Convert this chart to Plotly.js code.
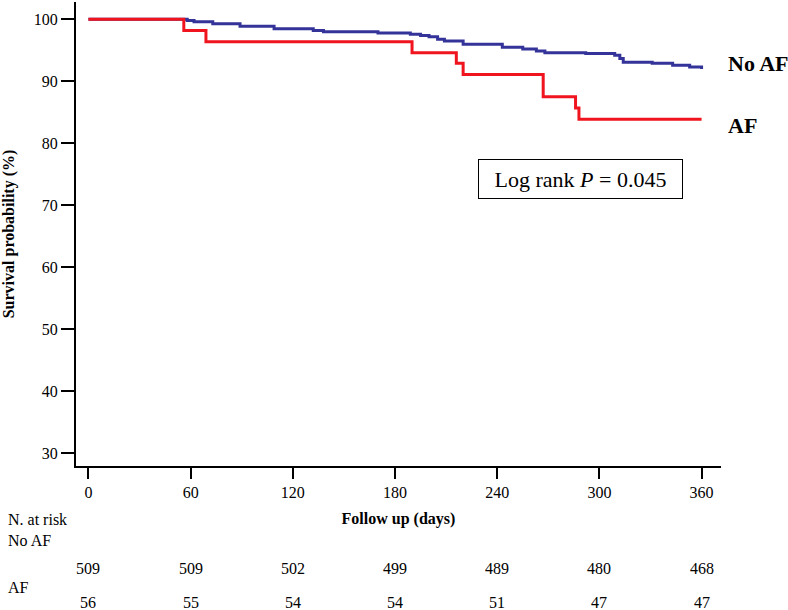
<!DOCTYPE html>
<html>
<head>
<meta charset="utf-8">
<script src="https://cdn.plot.ly/plotly-3.0.1.min.js"></script>
<style>
  html, body { margin: 0; padding: 0; background: #fff; }
  #chart { width: 788px; height: 610px; }
</style>
</head>
<body>
<div id="chart"></div>
<script>
// ---- Data ----
const noAfDays = [0, 58, 62, 73, 89, 109, 132, 138, 170, 189, 195, 200, 205, 209, 220, 243, 255, 263, 268, 292, 309, 312, 314, 331, 343, 353, 360];
const noAfSurv = [100, 99.8, 99.6, 99.3, 98.9, 98.5, 98.2, 98.0, 97.8, 97.6, 97.4, 97.2, 96.8, 96.5, 96.0, 95.5, 95.2, 94.9, 94.6, 94.5, 94.2, 93.7, 93.1, 92.9, 92.6, 92.3, 92.0];

const afDays = [0, 56, 69, 190, 216, 220, 267, 286, 288, 360];
const afSurv = [100, 98.2, 96.4, 94.6, 92.9, 91.1, 87.5, 85.7, 83.9, 83.9];

const xTicks = [0, 60, 120, 180, 240, 300, 360];
const yTicks = [30, 40, 50, 60, 70, 80, 90, 100];

const riskTimes = [0, 60, 120, 180, 240, 300, 360];
const riskNoAf = [509, 509, 502, 499, 489, 480, 468];
const riskAf = [56, 55, 54, 54, 51, 47, 47];

const groupNames = ["No AF", "AF"];
const pValueText = "Log rank <i>P</i> = 0.045";

// ---- Layout helpers (pixel geometry) ----
const W = 788, H = 610;
const M = { l: 76, r: 67, t: 2, b: 144 };
const plotH = H - M.t - M.b;   // 464
const plotW = W - M.l - M.r;   // 645
const py = p => (H - M.b - p) / plotH;  // pixel y -> paper y
const px = p => (p - M.l) / plotW;      // pixel x -> paper x

const serif = "Liberation Serif, Times New Roman, serif";

const traces = [
  { x: noAfDays, y: noAfSurv, name: groupNames[0], mode: "lines",
    line: { shape: "hv", color: "#333399", width: 3 }, hoverinfo: "x+y" },
  { x: afDays, y: afSurv, name: groupNames[1], mode: "lines",
    line: { shape: "hv", color: "#f0141e", width: 3 }, hoverinfo: "x+y" }
];

const annotations = [];
// group labels at the curve ends
annotations.push({ xref: "paper", yref: "paper", x: px(726), y: py(63), xanchor: "left", yanchor: "middle",
  text: "<b>" + groupNames[0] + "</b>", showarrow: false, font: { family: serif, size: 22, color: "#000" } });
annotations.push({ xref: "paper", yref: "paper", x: px(726), y: py(125), xanchor: "left", yanchor: "middle",
  text: "<b>" + groupNames[1] + "</b>", showarrow: false, font: { family: serif, size: 22, color: "#000" } });
// log-rank box
annotations.push({ xref: "paper", yref: "paper", x: px(580.5), y: py(179), xanchor: "center", yanchor: "middle",
  text: pValueText, showarrow: false, font: { family: serif, size: 22, color: "#000" },
  width: 191, height: 26, align: "center", valign: "middle",
  bordercolor: "#000", borderwidth: 1, borderpad: 6, bgcolor: "#fff" });
// number-at-risk table
annotations.push({ xref: "paper", yref: "paper", x: px(6), y: py(519), xanchor: "left", yanchor: "middle",
  text: "N. at risk", showarrow: false, font: { family: serif, size: 16, color: "#000" } });
annotations.push({ xref: "paper", yref: "paper", x: px(6), y: py(540), xanchor: "left", yanchor: "middle",
  text: groupNames[0], showarrow: false, font: { family: serif, size: 16, color: "#000" } });
annotations.push({ xref: "paper", yref: "paper", x: px(6), y: py(587), xanchor: "left", yanchor: "middle",
  text: groupNames[1], showarrow: false, font: { family: serif, size: 16, color: "#000" } });
riskTimes.forEach((t, i) => {
  annotations.push({ xref: "x", yref: "paper", x: t, y: py(568), xanchor: "center", yanchor: "middle",
    text: String(riskNoAf[i]), showarrow: false, font: { family: serif, size: 16, color: "#000" } });
  annotations.push({ xref: "x", yref: "paper", x: t, y: py(602), xanchor: "center", yanchor: "middle",
    text: String(riskAf[i]), showarrow: false, font: { family: serif, size: 16, color: "#000" } });
});

const layout = {
  width: W, height: H,
  margin: M,
  paper_bgcolor: "#fff", plot_bgcolor: "#fff",
  showlegend: false,
  font: { family: serif, size: 16, color: "#000" },
  xaxis: {
    range: [-7.3, 371.4],
    tickvals: xTicks, ticktext: xTicks.map(String),
    ticks: "outside", ticklen: 11, tickwidth: 2, tickcolor: "#000",
    showline: true, linecolor: "#000", linewidth: 2,
    showgrid: false, zeroline: false,
    tickfont: { family: serif, size: 16, color: "#000" },
    title: { text: "<b>Follow up (days)</b>", font: { family: serif, size: 16, color: "#000" }, standoff: 13 },
    automargin: false, fixedrange: true
  },
  yaxis: {
    range: [27.95, 102.8],
    tickvals: yTicks, ticktext: yTicks.map(String),
    ticks: "outside", ticklen: 13, tickwidth: 2, tickcolor: "#000",
    showline: true, linecolor: "#000", linewidth: 2,
    showgrid: false, zeroline: false,
    tickfont: { family: serif, size: 16, color: "#000" },
    title: { text: "<b>Survival probability (%)</b>", font: { family: serif, size: 16, color: "#000" }, standoff: 24 },
    automargin: false, fixedrange: true
  },
  annotations: annotations
};

Plotly.newPlot("chart", traces, layout, { displayModeBar: false, staticPlot: true });
</script>
</body>
</html>
